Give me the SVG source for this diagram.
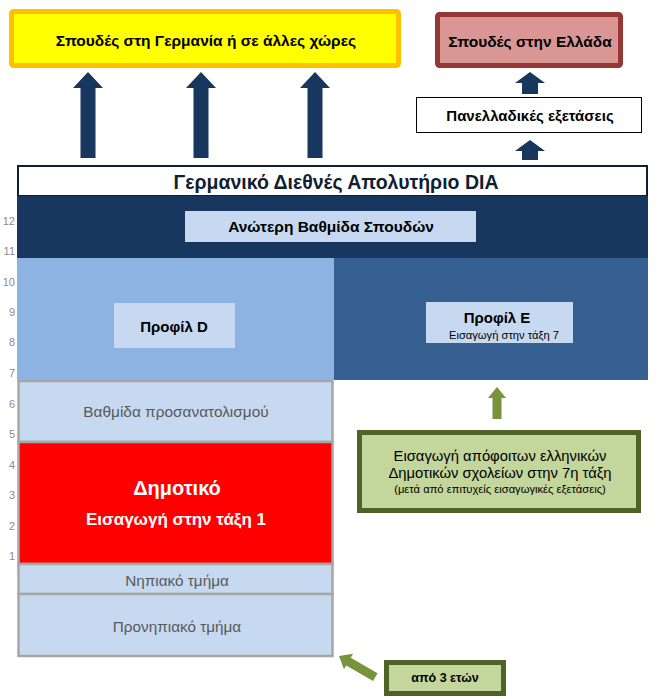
<svg xmlns="http://www.w3.org/2000/svg" width="662" height="699" viewBox="0 0 662 699">
<style>
text{font-family:"Liberation Sans",Arial,sans-serif;text-anchor:middle;dominant-baseline:central}
.b{font-weight:bold}
.num{font-size:11px;fill:#8c8c8c;text-anchor:end}
.navy{fill:#17375e}
.green{fill:#77933c}
.lt{fill:#c6d9f1}
.col{fill:#c6d9f1;stroke:#a6a6a6;stroke-width:2.5}
.gbox{fill:#c3d69b;stroke:#4f6228;stroke-width:5}
</style>
<rect width="662" height="699" fill="#fff"/>

<g id="ausland">
<rect x="11.5" y="11.5" width="387" height="54" fill="#ffff00" stroke="#ffc000" stroke-width="5" rx="2"/>
<text class="b" x="206" y="40" font-size="15.5">Σπουδές στη Γερμανία ή σε άλλες χώρες</text>
</g>
<g id="ellada">
<rect x="437.5" y="14.5" width="183" height="51" fill="#d99694" stroke="#953735" stroke-width="5" rx="2"/>
<text class="b" x="530" y="41" font-size="15.5">Σπουδές στην Ελλάδα</text>
</g>
<g id="panellinies">
<rect x="416.5" y="97.5" width="225" height="35" fill="#fff" stroke="#000" stroke-width="1"/>
<text class="b" x="530" y="115" font-size="15">Πανελλαδικές εξετάσεις</text>
</g>
<g id="dia">
<rect x="18" y="166" width="629" height="30" fill="#fff" stroke="#0f1f33" stroke-width="2"/>
<text class="b" x="336" y="182" font-size="19.5" fill="#0f1f33">Γερμανικό Διεθνές Απολυτήριο DIA</text>
</g>
<g id="anoteri">
<rect x="17" y="196" width="631" height="62" class="navy"/>
<rect x="185" y="211" width="291" height="31" class="lt"/>
<text class="b" x="331" y="226" font-size="15.5">Ανώτερη Βαθμίδα Σπουδών</text>
</g>
<g id="profil-d">
<rect x="17" y="258" width="317" height="122" fill="#8db3e2"/>
<rect x="114" y="303" width="121" height="45" class="lt"/>
<text class="b" x="174" y="326" font-size="15">Προφίλ D</text>
</g>
<g id="profil-e">
<rect x="334" y="258" width="314" height="122" fill="#366092"/>
<rect x="426" y="302" width="147" height="41" class="lt"/>
<text class="b" x="497" y="317" font-size="15">Προφίλ E</text>
<text x="504" y="335" font-size="11.2">Εισαγωγή στην τάξη 7</text>
</g>
<g id="prosanatolismos">
<rect x="18.5" y="381" width="314" height="61" class="col"/>
<text x="176" y="411" font-size="15.4" fill="#595959">Βαθμίδα προσανατολισμού</text>
</g>
<g id="dimotiko">
<rect x="18.5" y="442" width="314" height="122" fill="#ff0000" stroke="#a6a6a6" stroke-width="2.5"/>
<text class="b" x="177" y="488" font-size="20" fill="#fff">Δημοτικό</text>
<text class="b" x="176" y="519" font-size="17" fill="#fff">Εισαγωγή στην τάξη 1</text>
</g>
<g id="nipiako">
<rect x="18.5" y="564" width="314" height="30" class="col"/>
<text x="177" y="580" font-size="15.3" fill="#595959">Νηπιακό τμήμα</text>
</g>
<g id="pronipiako">
<rect x="18.5" y="594" width="314" height="62" class="col"/>
<text x="177" y="626" font-size="15.3" fill="#595959">Προνηπιακό τμήμα</text>
</g>
<g id="eisagogi-7">
<rect x="359.5" y="432.5" width="279" height="78" class="gbox"/>
<text x="500" y="456" font-size="14.8">Εισαγωγή απόφοιτων ελληνικών</text>
<text x="500" y="473" font-size="14.8">Δημοτικών σχολείων στην 7η τάξη</text>
<text x="500" y="489" font-size="11.2">(μετά από επιτυχείς εισαγωγικές εξετάσεις)</text>
</g>
<g id="apo-3">
<rect x="386.5" y="662.5" width="117" height="31" class="gbox"/>
<text class="b" x="445" y="678" font-size="12.5">από 3 ετών</text>
</g>
<g id="classes">
<text class="num" x="15" y="221">12</text>
<text class="num" x="15" y="251">11</text>
<text class="num" x="15" y="282">10</text>
<text class="num" x="15" y="312">9</text>
<text class="num" x="15" y="342">8</text>
<text class="num" x="15" y="373">7</text>
<text class="num" x="15" y="404">6</text>
<text class="num" x="15" y="434">5</text>
<text class="num" x="15" y="465">4</text>
<text class="num" x="15" y="495">3</text>
<text class="num" x="15" y="526">2</text>
<text class="num" x="15" y="556">1</text>
</g>

<g id="connectors">
<polygon class="navy" points="88,72 103,88 95.5,88 95.5,158 80.5,158 80.5,88 73,88"/>
<polygon class="navy" points="201,72 216,88 208.5,88 208.5,158 193.5,158 193.5,88 186,88"/>
<polygon class="navy" points="315,72 330,88 322.5,88 322.5,158 307.5,158 307.5,88 300,88"/>
<polygon class="navy" points="530,72 545,83 538,83 538,94 522,94 522,83 515,83"/>
<polygon class="navy" points="530,140 545,151 538,151 538,160 522,160 522,151 515,151"/>
<polygon class="green" points="497,387 506,398 501.5,398 501.5,419 492.5,419 492.5,398 488,398"/>
<polygon class="green" transform="translate(339,656) rotate(30.3)" points="0,0 11,-9 11,-4.5 42,-4.5 42,4.5 11,4.5 11,9"/>
</g>
</svg>
